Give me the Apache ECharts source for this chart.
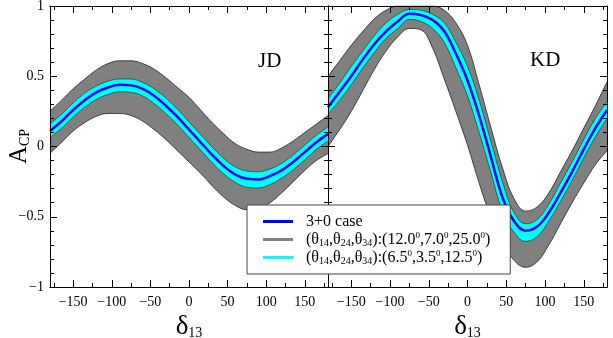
<!DOCTYPE html>
<html><head><meta charset="utf-8">
<script src="https://cdn.jsdelivr.net/npm/echarts@6/dist/echarts.min.js"></script>
<style>html,body{margin:0;padding:0;background:#fff}#c{width:613px;height:338px}</style>
</head><body><div id="c"></div>
<script>
// ---- data ----
const delta = [-180,-165,-150,-135,-120,-105,-90,-75,-60,-45,-30,-15,0,15,30,45,60,75,90,105,120,135,150,165,180];
const xMajor = [-150,-100,-50,0,50,100,150];
const xMinor = [-175,-125,-75,-25,25,75,125,175];

const jdBlue   = [0.11,0.18,0.26,0.33,0.385,0.42,0.44,0.435,0.41,0.36,0.29,0.21,0.12,0.03,-0.06,-0.14,-0.20,-0.23,-0.235,-0.21,-0.17,-0.11,-0.04,0.03,0.09];
const jdCyanUp = [0.16,0.23,0.31,0.38,0.43,0.465,0.48,0.48,0.455,0.41,0.345,0.265,0.175,0.085,-0.005,-0.085,-0.145,-0.175,-0.18,-0.16,-0.12,-0.06,0.01,0.08,0.14];
const jdCyanLo = [0.065,0.13,0.21,0.28,0.335,0.37,0.39,0.385,0.36,0.305,0.235,0.155,0.065,-0.025,-0.115,-0.195,-0.255,-0.29,-0.295,-0.27,-0.225,-0.165,-0.095,-0.02,0.04];
const jdGrayUp = [0.25,0.33,0.41,0.48,0.545,0.59,0.61,0.61,0.59,0.55,0.49,0.42,0.35,0.26,0.17,0.09,0.02,-0.02,-0.04,-0.04,-0.01,0.04,0.10,0.16,0.22];
const jdGrayLo = [-0.05,0.03,0.11,0.17,0.215,0.235,0.235,0.22,0.18,0.12,0.05,-0.03,-0.11,-0.19,-0.28,-0.36,-0.42,-0.45,-0.44,-0.40,-0.33,-0.25,-0.17,-0.10,-0.05];

const kdBlue   = [0.28,0.39,0.50,0.62,0.73,0.82,0.89,0.945,0.935,0.90,0.82,0.66,0.47,0.22,-0.07,-0.36,-0.53,-0.60,-0.57,-0.47,-0.33,-0.18,-0.02,0.13,0.26];
const kdCyanUp = [0.34,0.45,0.57,0.68,0.79,0.88,0.94,0.975,0.97,0.94,0.88,0.74,0.57,0.33,0.04,-0.25,-0.47,-0.55,-0.52,-0.41,-0.26,-0.11,0.05,0.20,0.32];
const kdCyanLo = [0.23,0.33,0.44,0.56,0.67,0.77,0.84,0.905,0.89,0.84,0.74,0.56,0.36,0.10,-0.18,-0.46,-0.61,-0.675,-0.64,-0.53,-0.39,-0.24,-0.08,0.07,0.20];
const kdGrayUp = [0.50,0.61,0.72,0.82,0.91,0.97,1.0,1.0,1.0,1.0,0.97,0.88,0.72,0.44,0.14,-0.15,-0.37,-0.46,-0.43,-0.33,-0.18,-0.03,0.13,0.29,0.46];
const kdGrayLo = [0.0,0.12,0.25,0.40,0.55,0.68,0.78,0.84,0.83,0.70,0.48,0.25,0.01,-0.26,-0.50,-0.68,-0.81,-0.86,-0.82,-0.70,-0.55,-0.40,-0.26,-0.13,-0.03];

const panelLabels = ['JD','KD'];
const legendNames = ['3+0 case','grayBand','cyanBand'];

// ---- styles ----
const SERIF = 'Liberation Serif';
const BLUE = '#0000ff', GRAY = '#808080', CYAN = '#00ffff', EDGE = '#222';
const minus = v => (v < 0 ? '\u2212' + Math.abs(v) : String(v));

const xAxes = [], yAxes = [];
[0,1].forEach(g => {
  const base = {gridIndex:g, type:'value', min:-180, max:180, z:10, splitLine:{show:false},
    axisLine:{show:true, onZero:false, lineStyle:{color:'#000', width:1}}};
  xAxes.push(Object.assign({}, base, {position:'bottom',
    axisTick:{show:true, inside:true, length:7, customValues:xMajor, lineStyle:{color:'#000'}},
    axisLabel:{show:true, customValues:xMajor, formatter:minus, fontFamily:SERIF, fontSize:14, color:'#000', margin:8},
    name:'{a|\u03b4}{s|13}', nameLocation:'middle', nameGap:25, nameMoveOverlap:false,
    nameTextStyle:{rich:{a:{fontFamily:SERIF, fontSize:27, color:'#000', lineHeight:28, verticalAlign:'bottom'},
                         s:{fontFamily:SERIF, fontSize:14, color:'#000', lineHeight:10, verticalAlign:'bottom'}}}}));
  xAxes.push(Object.assign({}, base, {position:'bottom',
    axisTick:{show:true, inside:true, length:4, customValues:xMinor, lineStyle:{color:'#000'}},
    axisLabel:{show:false}}));
  xAxes.push(Object.assign({}, base, {position:'top',
    axisTick:{show:true, inside:true, length:7, customValues:xMajor, lineStyle:{color:'#000'}},
    axisLabel:{show:false}}));
  xAxes.push(Object.assign({}, base, {position:'top',
    axisTick:{show:true, inside:true, length:4, customValues:xMinor, lineStyle:{color:'#000'}},
    axisLabel:{show:false}}));
  const ybase = {gridIndex:g, type:'value', min:-1, max:1, interval:0.5, z:10, splitLine:{show:false},
    axisLine:{show:true, onZero:false, lineStyle:{color:'#000', width:1}},
    axisTick:{show:true, inside:true, length:7, lineStyle:{color:'#000'}},
    minorTick:{show:true, splitNumber:5, length:4, lineStyle:{color:'#000'}}};
  const left = Object.assign({}, ybase, {position:'left',
    axisLabel:{show:g===0, formatter:minus, fontFamily:SERIF, fontSize:14, color:'#000', margin:6}});
  if (g === 0) {
    Object.assign(left, {name:'{a|A}{s|CP}', nameLocation:'middle', nameRotate:90, nameGap:18, nameMoveOverlap:false,
      nameTextStyle:{rich:{a:{fontFamily:SERIF, fontSize:25, color:'#000', lineHeight:26, verticalAlign:'bottom'},
                           s:{fontFamily:SERIF, fontSize:14, color:'#000', lineHeight:10, verticalAlign:'bottom'}}}});
  }
  yAxes.push(left);
  yAxes.push(Object.assign({}, ybase, {position:'right', axisLabel:{show:false}}));
});

function pts(arr) { return delta.map((d,i) => [d, arr[i]]); }

const series = [];
// Layered fills down to the axis minimum: grayUp(gray) > cyanUp(cyan) > cyanLo(gray) > grayLo(white)
function panel(g, blue, cUp, cLo, gUp, gLo) {
  const common = {type:'line', xAxisIndex:g*4, yAxisIndex:g*2, symbol:'none', smooth:0.4, silent:true};
  series.push(Object.assign({}, common, {name:legendNames[1], data:pts(gUp),
    lineStyle:{color:EDGE, width:0.8}, itemStyle:{color:GRAY}, areaStyle:{color:GRAY, opacity:1, origin:'start'}}));
  series.push(Object.assign({}, common, {name:legendNames[2], data:pts(cUp),
    lineStyle:{color:EDGE, width:0.6}, itemStyle:{color:CYAN}, areaStyle:{color:CYAN, opacity:1, origin:'start'}}));
  series.push(Object.assign({}, common, {name:'cyanLo'+g, data:pts(cLo),
    lineStyle:{color:EDGE, width:0.6}, areaStyle:{color:GRAY, opacity:1, origin:'start'}}));
  series.push(Object.assign({}, common, {name:'grayLo'+g, data:pts(gLo),
    lineStyle:{color:EDGE, width:0.8}, areaStyle:{color:'#ffffff', opacity:1, origin:'start'}}));
  series.push(Object.assign({}, common, {name:legendNames[0], data:pts(blue),
    lineStyle:{color:BLUE, width:2.5}, itemStyle:{color:BLUE}}));
}
panel(0, jdBlue, jdCyanUp, jdCyanLo, jdGrayUp, jdGrayLo);
panel(1, kdBlue, kdCyanUp, kdCyanLo, kdGrayUp, kdGrayLo);

const legendText = {
  '3+0 case':'3+0 case',
  'grayBand':'(\u03b8{s|14},\u03b8{s|24},\u03b8{s|34}):(12.0{p|0},7.0{p|0},25.0{p|0})',
  'cyanBand':'(\u03b8{s|14},\u03b8{s|24},\u03b8{s|34}):(6.5{p|0},3.5{p|0},12.5{p|0})'
};

const option = {
  animation:false,
  backgroundColor:'#fff',
  grid:[{left:50, top:6, width:278, height:281, outerBoundsMode:'none', containLabel:false},
        {left:328, top:6, width:279, height:281, outerBoundsMode:'none', containLabel:false}],
  xAxis:xAxes,
  yAxis:yAxes,
  series:series,
  legend:{
    show:true, orient:'vertical', left:247, top:205, z:20,
    padding:[8,20,8,16], itemGap:1, itemWidth:30, itemHeight:3,
    backgroundColor:'#fff', borderColor:'#444', borderWidth:1, borderRadius:0,
    selectedMode:false,
    data:[
      {name:legendNames[0], icon:'rect', itemStyle:{color:BLUE, borderWidth:0}},
      {name:legendNames[1], icon:'rect', itemStyle:{color:GRAY, borderWidth:0}},
      {name:legendNames[2], icon:'rect', itemStyle:{color:CYAN, borderWidth:0}}
    ],
    formatter: n => legendText[n],
    textStyle:{fontFamily:SERIF, fontSize:16, color:'#000', lineHeight:17, padding:[0,0,0,8],
      rich:{s:{fontFamily:SERIF, fontSize:10, color:'#000', lineHeight:8, verticalAlign:'bottom'},
            p:{fontFamily:SERIF, fontSize:9, color:'#000', lineHeight:9, verticalAlign:'top'}}}
  },
  graphic:[
    {type:'text', left:258, top:51, z:20, style:{text:panelLabels[0], font:'21px "Liberation Serif"', fill:'#000'}},
    {type:'text', left:530, top:50, z:20, style:{text:panelLabels[1], font:'21px "Liberation Serif"', fill:'#000'}}
  ]
};
const chart = echarts.init(document.getElementById('c'), null, {renderer:'canvas'});
chart.setOption(option);
</script></body></html>
